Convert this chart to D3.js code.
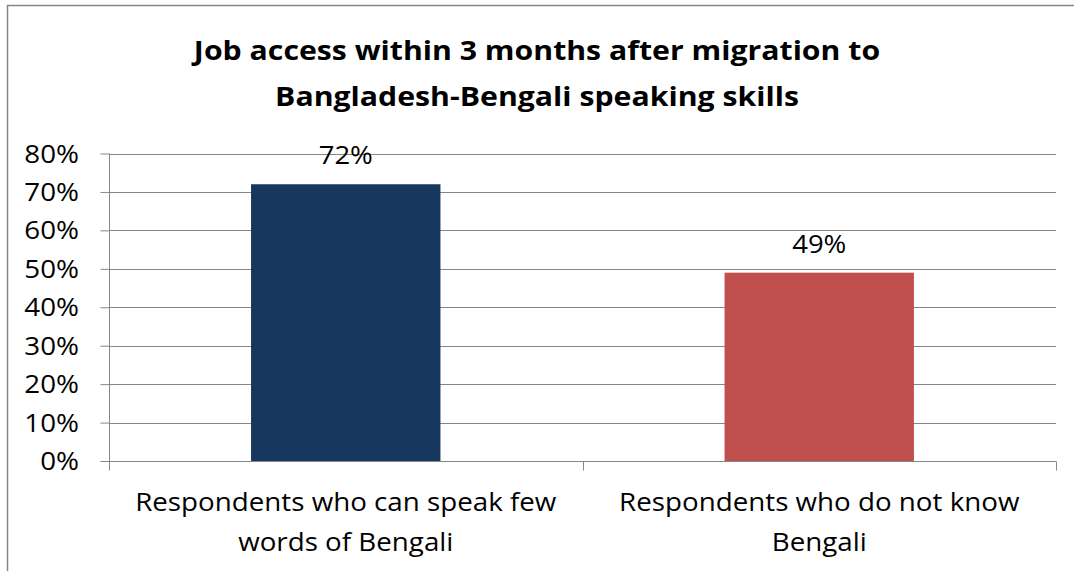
<!DOCTYPE html>
<html>
<head>
<meta charset="utf-8">
<script src="https://cdn.jsdelivr.net/npm/d3@7/dist/d3.min.js"></script>
<style>
  html, body { margin: 0; padding: 0; background: #fff; }
  svg { display: block; }
  text { font-family: "Open Sans", "Noto Sans", sans-serif; fill: #000; }
</style>
</head>
<body>
<svg id="chart" width="1074" height="571"></svg>
<script>
// Chart data
const titleLines = ["Job access within 3 months after migration to", "Bangladesh-Bengali speaking skills"];
const categories = [
  ["Respondents who can speak few", "words of Bengali"],
  ["Respondents who do not know", "Bengali"]
];
const values = [0.72, 0.49];
const barColors = ["#17375E", "#C0504D"];
const yTicks = [0, 0.1, 0.2, 0.3, 0.4, 0.5, 0.6, 0.7, 0.8];

const svg = d3.select("#chart");
const W = 1074, H = 571;
const pct = d3.format(".0%");

// Places text at (x, y) with a horizontal stretch factor around its anchor
function placeText(sel, xf, yf, sx) {
  sel.attr("transform", (d, i) => `translate(${xf(d, i)},${yf(d, i)}) scale(${sx},1)`);
}

// Outer chart frame (runs off the right and bottom edges)
svg.append("rect")
  .attr("x", 7.5).attr("y", 5.5)
  .attr("width", W + 10).attr("height", H + 10)
  .attr("fill", "#fff").attr("stroke", "#868686").attr("stroke-width", 1.5);

// Title
svg.append("g").selectAll("text")
  .data(titleLines).join("text")
  .attr("text-anchor", "middle")
  .style("font-size", "27px").style("font-weight", "bold")
  .text(d => d)
  .call(placeText, () => 537, (d, i) => 60 + i * 46, 1.12);

const plot = { left: 109, right: 1056, top: 153.5, bottom: 461 };

const x = d3.scaleBand()
  .domain(d3.range(categories.length))
  .range([plot.left, plot.right])
  .paddingInner(0.6).paddingOuter(0.3);

const y = d3.scaleLinear().domain([0, 0.8]).range([plot.bottom, plot.top]);

// Horizontal gridlines
svg.append("g").selectAll("line")
  .data(yTicks.slice(1)).join("line")
  .attr("x1", plot.left).attr("x2", plot.right)
  .attr("y1", d => Math.round(y(d)) + 0.5).attr("y2", d => Math.round(y(d)) + 0.5)
  .attr("stroke", "#868686").attr("stroke-width", 1);

// Bars
svg.append("g").selectAll("rect")
  .data(values).join("rect")
  .attr("x", (d, i) => x(i))
  .attr("width", x.bandwidth())
  .attr("y", d => y(d))
  .attr("height", d => y(0) - y(d))
  .attr("fill", (d, i) => barColors[i]);

// Value labels
svg.append("g").selectAll("text")
  .data(values).join("text")
  .attr("text-anchor", "middle")
  .style("font-size", "25px")
  .text(d => pct(d))
  .call(placeText, (d, i) => x(i) + x.bandwidth() / 2, d => y(d) - 20, 1.1);

// Y axis (line and ticks from d3.axisLeft, labels placed separately)
const yAxis = d3.axisLeft(y)
  .tickValues(yTicks)
  .tickFormat("")
  .tickSize(9);
const yg = svg.append("g")
  .attr("transform", `translate(${plot.left + 0.5},0)`)
  .call(yAxis);
yg.select(".domain").attr("stroke", "#868686").attr("d", `M0,${plot.top}V${plot.bottom + 9}`);
yg.selectAll(".tick line").attr("stroke", "#868686");

svg.append("g").selectAll("text")
  .data(yTicks).join("text")
  .attr("text-anchor", "end")
  .attr("dy", "0.36em")
  .style("font-size", "25px")
  .text(d => pct(d))
  .call(placeText, () => 79, d => y(d), 1.11);

// X axis baseline with category dividers
const xAxisY = Math.round(y(0)) + 0.5;
svg.append("line")
  .attr("x1", plot.left).attr("x2", plot.right)
  .attr("y1", xAxisY).attr("y2", xAxisY)
  .attr("stroke", "#868686");
const dividers = [plot.left, (x(0) + x.bandwidth() + x(1)) / 2, plot.right];
svg.append("g").selectAll("line")
  .data(dividers).join("line")
  .attr("x1", d => Math.round(d) + 0.5).attr("x2", d => Math.round(d) + 0.5)
  .attr("y1", xAxisY).attr("y2", xAxisY + 9)
  .attr("stroke", "#868686");

// Category labels (two lines each)
const catG = svg.append("g").selectAll("g")
  .data(categories).join("g")
  .attr("transform", (d, i) => `translate(${x(i) + x.bandwidth() / 2},0)`);
catG.selectAll("text")
  .data(d => d).join("text")
  .attr("text-anchor", "middle")
  .style("font-size", "25px")
  .text(d => d)
  .call(placeText, () => 0, (d, i) => 511 + i * 40, 1.11);
</script>
</body>
</html>
